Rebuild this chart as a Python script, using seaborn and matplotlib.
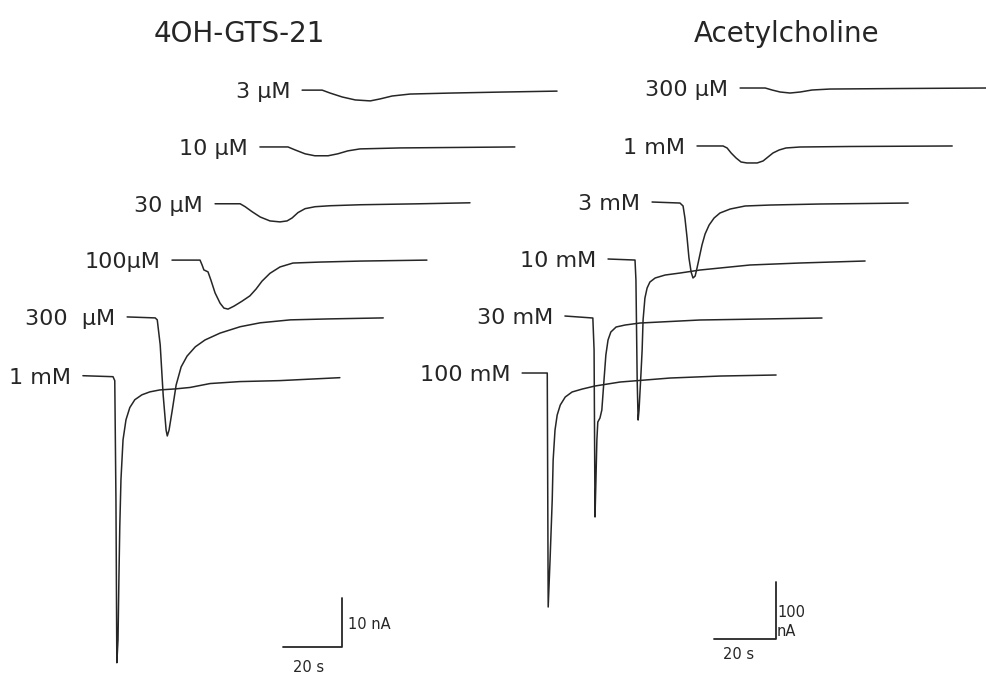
import numpy as np
import pandas as pd
import matplotlib
matplotlib.use("Agg")
import matplotlib.pyplot as plt
import seaborn as sns

# --- 4OH-GTS-21 traces: time from trace start (s), current vs baseline (nA)
gts_labels = ['3 µM', '10 µM', '30 µM', '100µM', '300  µM', '1 mM']
gts_t = [
    [0, 6.8, 9.5, 13.6, 18.0, 23.1, 26.4, 30.5, 36.6, 50.2, 67.1, 86.4],
    [0, 9.5, 11.9, 15.3, 18.6, 23.1, 26.4, 29.8, 33.9, 47.5, 86.4],
    [0, 8.5, 10.2, 12.5, 15.3, 18.6, 22.0, 24.4, 26.1, 28.1, 30.5, 33.9, 39.0, 49.2, 69.5, 86.4],
    [0, 9.5, 10.2, 10.8, 11.5, 12.2, 13.2, 14.6, 16.3, 17.6, 19.0, 21.0, 23.7, 26.4, 28.5,
     30.5, 33.2, 36.6, 41.0, 50.2, 63.7, 86.4],
    [0, 9.5, 10.2, 11.2, 12.2, 13.2, 13.6, 14.2, 15.3, 16.6, 18.3, 20.3, 23.1, 26.4, 31.5,
     38.3, 45.1, 55.3, 68.8, 86.8],
    [0, 10.2, 10.8, 11.2, 11.5, 11.9, 12.2, 12.5, 12.9, 13.6, 14.6, 15.9, 17.6, 20.0, 22.7,
     26.1, 31.2, 36.3, 39.7, 43.1, 53.2, 66.8, 87.1],
]
gts_i = [
    [0, 0, -0.6, -1.4, -2.0, -2.2, -1.8, -1.2, -0.8, -0.6, -0.4, -0.2],
    [0, 0, -0.6, -1.4, -1.8, -1.8, -1.4, -0.8, -0.4, -0.2, 0],
    [0, 0, -0.6, -1.6, -2.7, -3.5, -3.7, -3.5, -2.9, -1.8, -1.0, -0.6, -0.4, -0.2, 0, 0.2],
    [0, 0, -1.0, -2.0, -2.2, -2.4, -4.1, -6.7, -8.8, -9.8, -10.0, -9.4, -8.4, -7.3, -5.9,
     -4.3, -2.7, -1.4, -0.6, -0.4, -0.2, 0],
    [0, -0.2, -0.6, -5.7, -15.9, -23.1, -24.3, -23.1, -19.0, -13.9, -10.2, -8.0, -6.1, -4.7,
     -3.3, -2.0, -1.2, -0.6, -0.4, -0.2],
    [0, -0.2, -1.0, -25.3, -58.6, -53.9, -41.6, -30.8, -21.2, -13.1, -9.0, -6.5, -4.9, -3.9,
     -3.3, -2.9, -2.7, -2.4, -2.0, -1.6, -1.2, -1.0, -0.4],
]

# --- Acetylcholine traces
ach_labels = ['300 µM', '1 mM', '3 mM', '10 mM', '30 mM', '100 mM']
ach_t = [
    [0, 8.1, 10.3, 12.9, 16.1, 19.4, 23.2, 29.0, 51.6, 79.4],
    [0, 8.4, 9.7, 11.0, 12.6, 14.2, 16.1, 19.4, 21.3, 22.9, 24.5, 26.5, 28.7, 33.2, 49.4, 82.3],
    [0, 9.0, 10.0, 10.6, 11.3, 11.9, 12.6, 13.2, 13.9, 14.5, 15.2, 16.1, 17.1, 18.4, 20.0,
     21.9, 25.2, 30.0, 38.1, 54.2, 82.6],
    [0, 8.7, 9.0, 9.4, 9.7, 10.0, 10.6, 11.0, 11.3, 11.9, 12.6, 13.5, 15.2, 18.4, 23.2,
     29.7, 45.8, 61.9, 82.9],
    [0, 9.0, 9.4, 9.7, 10.0, 10.3, 10.6, 11.3, 11.9, 12.6, 13.2, 13.9, 14.8, 16.5, 19.4,
     24.2, 43.5, 62.9, 82.9],
    [0, 8.1, 8.4, 9.0, 9.7, 10.0, 10.6, 11.3, 12.3, 13.9, 16.1, 19.4, 23.5, 31.6, 47.7,
     63.9, 81.9],
]
ach_i = [
    [0, 0, -3.5, -7.0, -8.8, -7.0, -3.5, -1.8, -0.9, 0],
    [0, 0, -3.5, -12.3, -21.1, -28.1, -29.8, -29.8, -26.3, -19.3, -12.3, -7.0, -3.5, -1.8,
     -0.9, 0],
    [0, -1.8, -7.0, -28.1, -63.2, -98.2, -122.8, -133.3, -129.8, -115.8, -98.2, -75.4,
     -56.1, -40.4, -28.1, -19.3, -12.3, -7.0, -5.3, -3.5, -1.8],
    [0, -1.8, -36.8, -212.3, -282.5, -264.9, -203.5, -159.6, -107.0, -68.4, -50.9, -40.4,
     -33.3, -28.1, -24.6, -19.3, -10.5, -7.0, -3.5],
    [0, -3.5, -59.6, -352.6, -287.7, -217.5, -186.0, -178.9, -164.9, -112.3, -68.4, -42.1,
     -28.1, -19.3, -15.8, -12.3, -7.0, -5.3, -3.5],
    [0, 0, -410.5, -328.1, -222.8, -152.6, -100.0, -73.7, -56.1, -42.1, -33.3, -28.1,
     -22.8, -15.8, -8.8, -5.3, -3.5],
]

# layout: where each trace starts (s) and its baseline offset (nA)
gts_start = [102.4, 88.1, 72.9, 58.3, 43.1, 28.1]
gts_base = [-18.4, -30.0, -41.6, -53.1, -64.7, -76.7]
ach_start = [79.7, 65.8, 51.3, 37.1, 23.2, 9.4]
ach_base = [-154.4, -256.1, -354.4, -454.4, -554.4, -654.4]


def build(labels, ts, cs, starts, bases):
    parts = []
    for lab, t, c, t0, b in zip(labels, ts, cs, starts, bases):
        parts.append(pd.DataFrame({'time': np.array(t) + t0,
                                   'current': np.array(c) + b,
                                   'trace': lab}))
    return pd.concat(parts, ignore_index=True)


df_gts = build(gts_labels, gts_t, gts_i, gts_start, gts_base)
df_ach = build(ach_labels, ach_t, ach_i, ach_start, ach_base)

sns.set_style("white")
plt.rcParams['font.family'] = ['DejaVu Sans']
ink = '#262626'

fig = plt.figure(figsize=(9.86, 6.75), dpi=100)
# both panels share the whole canvas, each with its own s / nA scale
ax_l = fig.add_axes([0, 0, 1, 1])
ax_r = fig.add_axes([0, 0, 1, 1])
ax_l.set_xlim(0, 334.2)
ax_l.set_ylim(-137.8, 0)
ax_r.set_xlim(-159.0, 159.0)
ax_r.set_ylim(-1184.2, 0)

for ax, df, labels, starts, bases in [(ax_l, df_gts, gts_labels, gts_start, gts_base),
                                      (ax_r, df_ach, ach_labels, ach_start, ach_base)]:
    sns.lineplot(data=df, x='time', y='current', units='trace', estimator=None,
                 sort=False, color=ink, linewidth=1.1, ax=ax,
                 solid_joinstyle='round')
    for lab, t0, b in zip(labels, starts, bases):
        ax.annotate(lab, xy=(t0, b), xytext=(-12, -8), textcoords='offset pixels',
                    ha='right', va='baseline', fontsize=16, color=ink)
    ax.axis('off')

# scale bars
ax_l.plot([95.9, 115.9, 115.9], [-132.0, -132.0, -122.0], color=ink, lw=1.3)
ax_l.annotate('10 nA', xy=(115.9, -132.0), xytext=(6, 22), textcoords='offset pixels',
              ha='left', va='center', fontsize=10.5, color=ink)
ax_l.annotate('20 s', xy=(115.9, -132.0), xytext=(-33, -21), textcoords='offset pixels',
              ha='center', va='center', fontsize=10.5, color=ink)

ax_r.plot([71.3, 91.3, 91.3], [-1121.0, -1121.0, -1021.0], color=ink, lw=1.3)
ax_r.annotate('100\nnA', xy=(91.3, -1121.0), xytext=(1, 17), textcoords='offset pixels',
              ha='left', va='center', fontsize=10.5, color=ink, linespacing=1.3)
ax_r.annotate('20 s', xy=(91.3, -1121.0), xytext=(-38, -16), textcoords='offset pixels',
              ha='center', va='center', fontsize=10.5, color=ink)

fig.text(239 / 986, 1 - 42 / 675, '4OH-GTS-21', ha='center', va='baseline',
         fontsize=20, color=ink)
fig.text(787 / 986, 1 - 42 / 675, 'Acetylcholine', ha='center', va='baseline',
         fontsize=20, color=ink)

fig.savefig('out.png', dpi=100, facecolor='white')
